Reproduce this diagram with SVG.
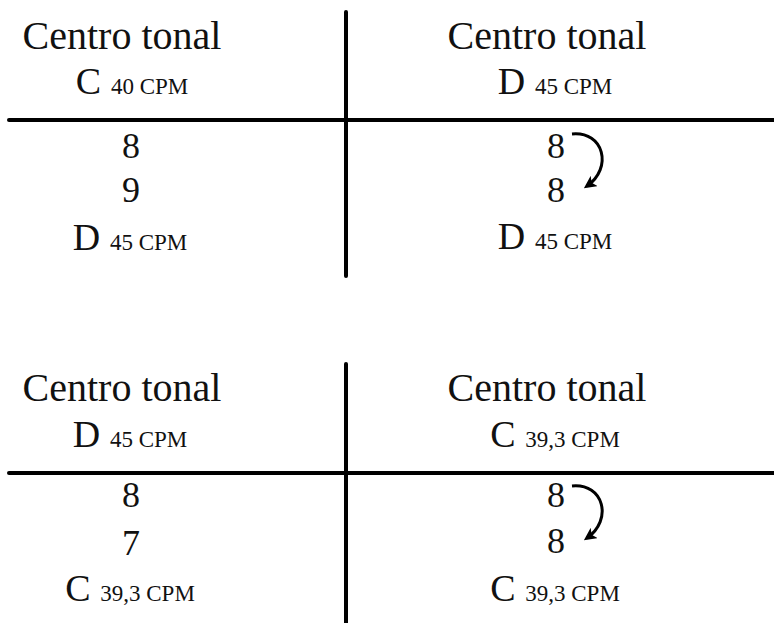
<svg xmlns="http://www.w3.org/2000/svg" width="774" height="623" viewBox="0 0 774 623">
<style>
text{font-family:"Liberation Serif","Times New Roman",serif;fill:#111;text-anchor:middle}
.h{font-size:40px}
.k{font-size:38px}
.s{font-size:23px}
.d{font-size:36px}
.ln{stroke:#000;stroke-width:4;stroke-linecap:round;fill:none}
.arc{stroke:#000;stroke-width:3;fill:none}
</style>
<defs>
<marker id="ah" viewBox="0 0 10 10" refX="7" refY="5" markerWidth="4.2" markerHeight="4.2" orient="auto" markerUnits="strokeWidth">
<path d="M0,0 L10,5 L0,10 L2.5,5 z" fill="#000"/>
</marker>
</defs>
<rect width="774" height="623" fill="#fff"/>
<g id="connectors">
<line class="ln" x1="346" y1="12" x2="346" y2="276"/>
<line class="ln" x1="9" y1="120" x2="774" y2="120"/>
<line class="ln" x1="346" y1="364" x2="346" y2="623"/>
<line class="ln" x1="9" y1="473" x2="774" y2="473"/>
<path class="arc" d="M572,134 C604,131 613,168 587,186" marker-end="url(#ah)"/>
<path class="arc" d="M572,486 C604,483 613,520 587,538" marker-end="url(#ah)"/>
</g>
<g id="t1-left">
<text class="h" x="122" y="49">Centro tonal</text>
<text x="132" y="94"><tspan class="k">C</tspan><tspan class="s" dx="4"> 40 CPM</tspan></text>
<text class="d" x="131" y="158">8</text>
<text class="d" x="131" y="202">9</text>
<text x="130" y="250"><tspan class="k">D</tspan><tspan class="s" dx="4"> 45 CPM</tspan></text>
</g>
<g id="t1-right">
<text class="h" x="547" y="49">Centro tonal</text>
<text x="555" y="94"><tspan class="k">D</tspan><tspan class="s" dx="4"> 45 CPM</tspan></text>
<text class="d" x="556" y="158">8</text>
<text class="d" x="556" y="202">8</text>
<text x="555" y="249"><tspan class="k">D</tspan><tspan class="s" dx="4"> 45 CPM</tspan></text>
</g>
<g id="t2-left">
<text class="h" x="122" y="401">Centro tonal</text>
<text x="130" y="447"><tspan class="k">D</tspan><tspan class="s" dx="4"> 45 CPM</tspan></text>
<text class="d" x="131" y="507">8</text>
<text class="d" x="131" y="555">7</text>
<text x="130" y="601"><tspan class="k">C</tspan><tspan class="s" dx="4"> 39,3 CPM</tspan></text>
</g>
<g id="t2-right">
<text class="h" x="547" y="401">Centro tonal</text>
<text x="555" y="447"><tspan class="k">C</tspan><tspan class="s" dx="4"> 39,3 CPM</tspan></text>
<text class="d" x="556" y="507">8</text>
<text class="d" x="556" y="553">8</text>
<text x="555" y="601"><tspan class="k">C</tspan><tspan class="s" dx="4"> 39,3 CPM</tspan></text>
</g>
</svg>
